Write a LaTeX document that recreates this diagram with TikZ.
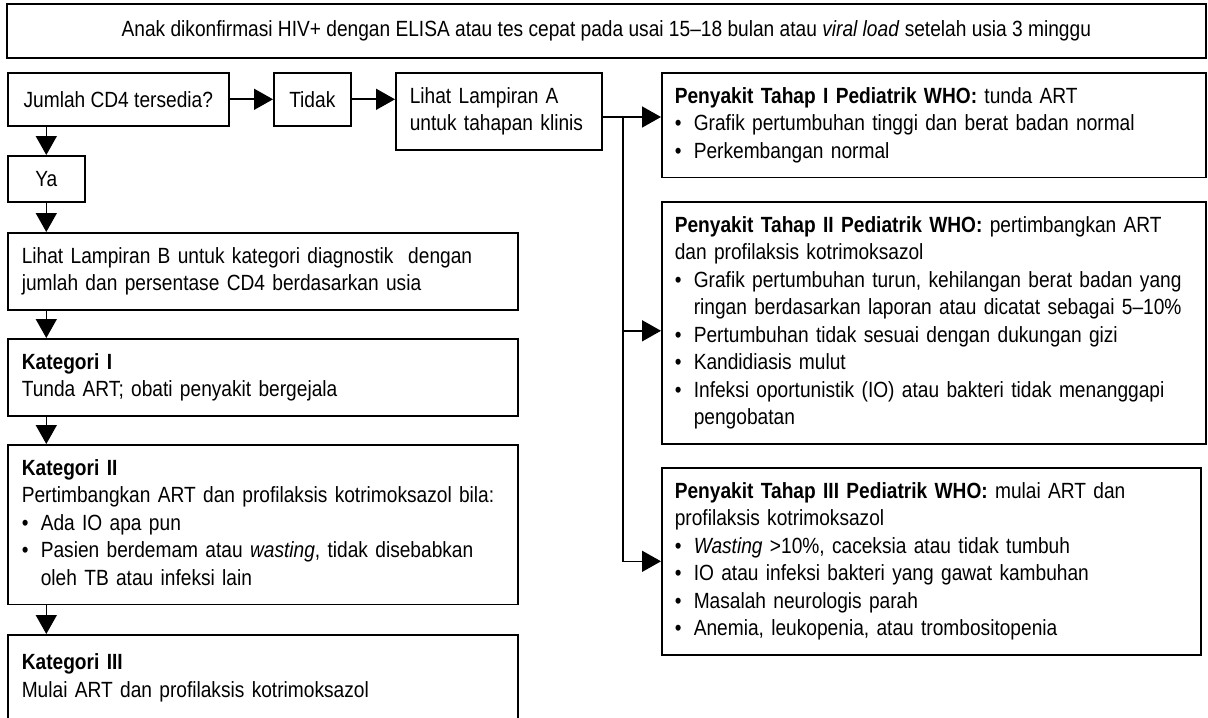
\documentclass[tikz,border=0pt]{standalone}
\usepackage{fontspec}
\setmainfont{Liberation Sans}[FakeStretch=0.87]
\usetikzlibrary{arrows.meta}
\newcommand{\butir}[1]{\makebox[9.5pt][l]{\textbullet}#1}
\newcommand{\lanjut}{\hspace*{9.5pt}}
\begin{document}
\begin{tikzpicture}[x=0.5pt, y=-0.5pt,
% common options for the boxes:
kotak/.style = {draw, line width=0.8pt, anchor=north west, inner xsep=7pt,
            inner ysep=5.5pt, font=\fontsize{11}{13.75}\selectfont},
% boxes with several lines of text:
kotakteks/.style = {kotak, align=left, execute at begin node=\strut,
            execute at end node=\strut},
% common options for the arrows:
panah/.style = {line width=0.8pt, -{Triangle[length=9.5pt,width=10.5pt]}}]
\useasboundingbox (0,0) rectangle (1208,717);
\clip (0,0) rectangle (1208,717);
\node[kotak, minimum width=599.5pt, minimum height=27pt] (atas) at (6,3) {Anak dikonfirmasi HIV+ dengan ELISA atau tes cepat pada usai 15–18 bulan atau \textit{viral load} setelah usia 3 minggu};
\node[kotak, minimum width=110.5pt, minimum height=26.5pt] (jumlah) at (7,72) {Jumlah CD4 tersedia?};
\node[kotak, minimum width=38.5pt, minimum height=26.5pt] (tidak) at (273,72) {Tidak};
\node[kotakteks, text width=89pt] (lihatA) at (395,72) {Lihat Lampiran A\\untuk tahapan klinis};
\node[kotak, minimum width=38.5pt, minimum height=23pt] (ya) at (7,155) {Ya};
\node[kotakteks, text width=241pt] (lihatB) at (7,232) {Lihat Lampiran B untuk kategori diagnostik \ dengan\\jumlah dan persentase CD4 berdasarkan usia};
\node[kotakteks, text width=241pt] (kat1) at (7,338) {\textbf{Kategori I}\\Tunda ART; obati penyakit bergejala};
\node[kotakteks, text width=241pt] (kat2) at (7,444) {\textbf{Kategori II}\\Pertimbangkan ART dan profilaksis kotrimoksazol bila:\\\butir{Ada IO apa pun}\\\butir{Pasien berdemam atau \textit{wasting}, tidak disebabkan}\\\lanjut oleh TB atau infeksi lain};
\node[kotakteks, text width=241pt, minimum height=43pt] (kat3) at (7,634) {\textbf{Kategori III}\\Mulai ART dan profilaksis kotrimoksazol};
\node[kotakteks, inner xsep=6.5pt, text width=259pt] (tahap1) at (661,72) {\textbf{Penyakit Tahap I Pediatrik WHO:} tunda ART\\\butir{Grafik pertumbuhan tinggi dan berat badan normal}\\\butir{Perkembangan normal}};
\node[kotakteks, inner xsep=6.5pt, text width=259pt] (tahap2) at (661,201) {\textbf{Penyakit Tahap II Pediatrik WHO:} pertimbangkan ART\\dan profilaksis kotrimoksazol\\\butir{Grafik pertumbuhan turun, kehilangan berat badan yang}\\\lanjut ringan berdasarkan laporan atau dicatat sebagai 5–10\%\\\butir{Pertumbuhan tidak sesuai dengan dukungan gizi}\\\butir{Kandidiasis mulut}\\\butir{Infeksi oportunistik (IO) atau bakteri tidak menanggapi}\\\lanjut pengobatan};
\node[kotakteks, inner xsep=6.5pt, text width=256.5pt] (tahap3) at (661,467) {\textbf{Penyakit Tahap III Pediatrik WHO:} mulai ART dan\\profilaksis kotrimoksazol\\\butir{\textit{Wasting} >10\%, caceksia atau tidak tumbuh}\\\butir{IO atau infeksi bakteri yang gawat kambuhan}\\\butir{Masalah neurologis parah}\\\butir{Anemia, leukopenia, atau trombositopenia}};
% top row
\draw[panah] (jumlah.east) -- (tidak.west);
\draw[panah] (tidak.east) -- (tidak.east -| lihatA.west);
\coordinate (cabang) at (623,117);
\coordinate (masuk2) at ([yshift=-4pt]tahap2.west);
\draw[panah] (lihatA.east |- cabang) -- (cabang -| tahap1.west);
\draw[panah] (cabang) |- (tahap3.west);
\draw[panah] (cabang |- masuk2) -- (masuk2);
% left column
\draw[panah] (ya.north |- jumlah.south) -- (ya.north);
\draw[panah] (ya.south) -- (ya.south |- lihatB.north);
\draw[panah] (ya.south |- lihatB.south) -- (ya.south |- kat1.north);
\draw[panah] (ya.south |- kat1.south) -- (ya.south |- kat2.north);
\draw[panah] (ya.south |- kat2.south) -- (ya.south |- kat3.north);
\end{tikzpicture}
\end{document}
